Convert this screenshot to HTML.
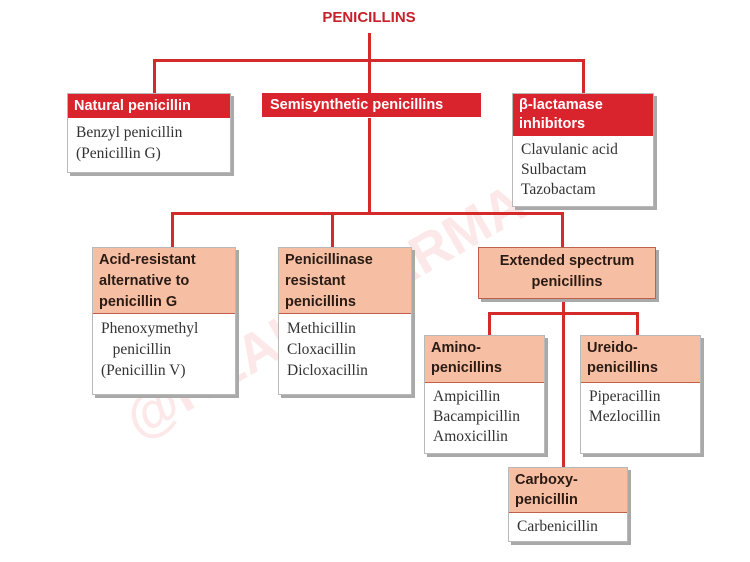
<!DOCTYPE html>
<html><head><meta charset="utf-8"><style>
body{margin:0;background:#fff;}
#root{position:relative;width:750px;height:562px;overflow:hidden;background:#fff;font-family:"Liberation Sans",sans-serif;}
.ln{position:absolute;background:#d42a2a;}
.box{position:absolute;background:#fff;border:1px solid #b9b9b9;box-shadow:3px 3px 0 #a9a9a9;}
.hr{background:#d9242e;color:#fff;font-weight:bold;font-size:14.5px;line-height:20px;padding:2px 6px;}
.hs{background:#f6bfa3;color:#2a1a14;font-weight:bold;font-size:14.5px;line-height:21px;padding:2px 6px;border-bottom:1px solid #c0604a;}
.bd{font-family:"Liberation Serif",serif;font-size:15.5px;line-height:21px;color:#333;padding:4px 8px;}
</style></head><body>
<div id="root">
<div style="position:absolute;left:145px;top:390px;height:60px;line-height:60px;font-size:54px;font-weight:bold;color:rgba(240,140,140,0.2);transform:rotate(-30deg);transform-origin:left bottom;white-space:nowrap;">@REAL PHARMACIST</div>
<div style="position:absolute;left:300px;width:138px;top:9px;text-align:center;color:#c8202a;font-weight:bold;font-size:15px;">PENICILLINS</div>

<div class="ln" style="left:368px;top:33px;width:3px;height:60px"></div>
<div class="ln" style="left:153px;top:59px;width:432px;height:3px"></div>
<div class="ln" style="left:153px;top:59px;width:3px;height:34px"></div>
<div class="ln" style="left:582px;top:59px;width:3px;height:34px"></div>
<div class="ln" style="left:368px;top:118px;width:3px;height:96px"></div>
<div class="ln" style="left:171px;top:212px;width:393px;height:3px"></div>
<div class="ln" style="left:171px;top:212px;width:3px;height:35px"></div>
<div class="ln" style="left:331px;top:212px;width:3px;height:35px"></div>
<div class="ln" style="left:561px;top:212px;width:3px;height:35px"></div>
<div class="ln" style="left:562px;top:297px;width:3px;height:170px"></div>
<div class="ln" style="left:488px;top:312px;width:151px;height:3px"></div>
<div class="ln" style="left:488px;top:312px;width:3px;height:23px"></div>
<div class="ln" style="left:636px;top:312px;width:3px;height:23px"></div>

<div class="box" style="left:67px;top:93px;width:162px;height:78px">
<div class="hr">Natural penicillin</div><div class="bd">Benzyl penicillin<br>(Penicillin G)</div></div>
<div class="box" style="left:262px;top:93px;width:219px;height:25px;border:none;box-shadow:none">
<div class="hr" style="padding-left:8px">Semisynthetic penicillins</div></div>
<div class="box" style="left:512px;top:93px;width:140px;height:112px">
<div class="hr" style="line-height:19px">β-lactamase<br>inhibitors</div><div class="bd" style="line-height:20px">Clavulanic acid<br>Sulbactam<br>Tazobactam</div></div>

<div class="box" style="left:92px;top:247px;width:142px;height:146px">
<div class="hs" style="height:61px">Acid-resistant<br>alternative to<br>penicillin G</div><div class="bd">Phenoxymethyl<br>&nbsp;&nbsp;&nbsp;penicillin<br>(Penicillin V)</div></div>
<div class="box" style="left:278px;top:247px;width:132px;height:146px">
<div class="hs" style="height:61px">Penicillinase<br>resistant<br>penicillins</div><div class="bd">Methicillin<br>Cloxacillin<br>Dicloxacillin</div></div>
<div class="box" style="left:478px;top:247px;width:176px;height:50px;background:#f6bfa3;border-color:#c0604a">
<div class="hs" style="text-align:center;border:none;padding-top:3px">Extended spectrum<br>penicillins</div></div>

<div class="box" style="left:424px;top:335px;width:119px;height:117px">
<div class="hs" style="height:42px;line-height:20px">Amino-<br>penicillins</div><div class="bd" style="line-height:20px">Ampicillin<br>Bacampicillin<br>Amoxicillin</div></div>
<div class="box" style="left:580px;top:335px;width:119px;height:117px">
<div class="hs" style="height:42px;line-height:20px">Ureido-<br>penicillins</div><div class="bd" style="line-height:20px">Piperacillin<br>Mezlocillin</div></div>
<div class="box" style="left:508px;top:467px;width:118px;height:73px">
<div class="hs" style="height:40px;line-height:20px">Carboxy-<br>penicillin</div><div class="bd" style="padding-top:3px">Carbenicillin</div></div>
</div>
</body></html>
